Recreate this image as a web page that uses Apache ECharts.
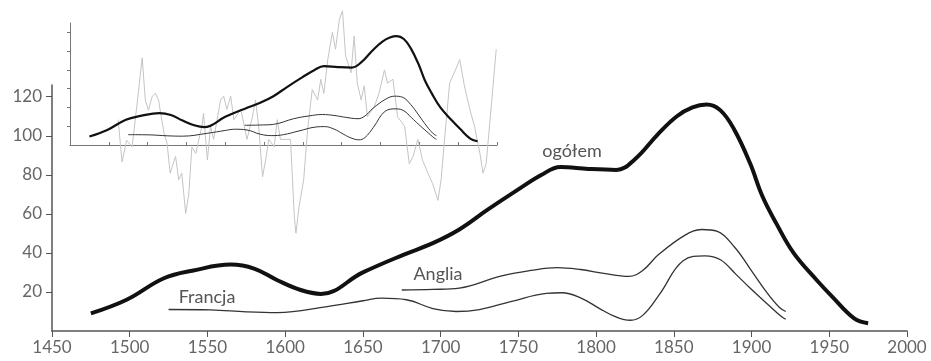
<!DOCTYPE html>
<html>
<head>
<meta charset="utf-8">
<script src="https://cdn.jsdelivr.net/npm/echarts@6/dist/echarts.min.js"></script>
<style>
html,body{margin:0;padding:0;background:#fff}
#wrap{position:relative;width:931px;height:361px}
#main,#inset{position:absolute;left:0;top:0;width:931px;height:361px}
#inset{pointer-events:none}
</style>
</head>
<body>
<div id="wrap"><div id="main"></div><div id="inset"></div></div>
<script>
// main curves: [year, value]
const ogolem = [[1475,9],[1498,16],[1522,27],[1541,31],[1565,34],[1580,32],[1595,26],[1610,21],[1623,19],[1650,30],[1676,39],[1695,45],[1712,52],[1730,62],[1749,72],[1765,80],[1777,84],[1795,83],[1813,82.5],[1825,88],[1840,101],[1852,110],[1862,114.5],[1871,116],[1880,113],[1889,103],[1899,86],[1907,69],[1916,55],[1927,40],[1942,26],[1952,17.5],[1966,6.5],[1975,4]];
const anglia = [[1675,21],[1695,21.3],[1712,22],[1738,28],[1758,31],[1775,32.5],[1790,31.5],[1805,29.5],[1821,28],[1830,31],[1840,39],[1857,49],[1868,52],[1878,51],[1889,43],[1899,32],[1910,19.5],[1918,12],[1922,10]];
const francja = [[1525,11],[1552,10.8],[1575,9.8],[1595,9.4],[1627,12.5],[1650,15.5],[1662,16.8],[1678,16],[1695,11.5],[1710,10],[1725,11],[1745,15],[1768,19.3],[1778,19.6],[1790,17],[1802,11.6],[1812,7.5],[1822,5.5],[1830,8],[1841,19],[1856,36],[1870,38.5],[1880,36.5],[1890,29],[1899,22],[1910,14],[1919,7.5],[1922,6]];
// inset: yearly fluctuation (grey)
const wahania = [[1512,27],[1517,-18],[1523,5],[1530,-2],[1536,41],[1543,93],[1547,48],[1551,37],[1556,52],[1560,55],[1564,48],[1571,13],[1575,2],[1579,-30],[1586,-12],[1590,-37],[1594,-30],[1599,-73],[1603,-52],[1607,-2],[1612,-9],[1616,6],[1620,20],[1622,34],[1627,-16],[1631,20],[1635,6],[1644,48],[1648,52],[1652,38],[1657,52],[1661,27],[1670,38],[1678,6],[1685,30],[1689,48],[1693,20],[1698,-34],[1702,-16],[1706,6],[1713,-2],[1717,27],[1721,6],[1734,6],[1739,-77],[1741,-94],[1745,-66],[1751,-37],[1756,16],[1762,59],[1769,48],[1773,70],[1777,55],[1782,91],[1788,120],[1792,102],[1797,134],[1801,143],[1805,95],[1812,77],[1816,116],[1820,66],[1825,48],[1829,63],[1833,30],[1842,41],[1848,55],[1855,80],[1859,66],[1866,70],[1872,30],[1881,20],[1887,-20],[1892,-12],[1898,6],[1904,-16],[1911,-30],[1917,-41],[1924,-59],[1928,-37],[1932,2],[1939,66],[1945,77],[1952,91],[1958,63],[1965,38],[1971,20],[1978,-9],[1982,-30],[1986,-20],[1993,45],[1999,102]];
const yTicks = [20,40,60,80,100,120];

const FONT = 'Lato';
const grey = '#666';

function thin(name, data, w){
  return {name, type:'line', data, smooth:0.4, showSymbol:false,
    lineStyle:{color:'#333', width:w}, z:3, silent:true};
}

// main panel
const main = echarts.init(document.getElementById('main'));
main.setOption({
  animation:false,
  grid:{left:52, right:24, top:85, bottom:30},
  xAxis:{type:'value', min:1450, max:2000, interval:50, splitLine:{show:false},
    axisLine:{lineStyle:{color:'#555', width:1.5}},
    axisTick:{length:6, lineStyle:{color:'#555'}},
    axisLabel:{color:grey, fontFamily:FONT, fontSize:17, margin:8, formatter:v=>String(v)}},
  yAxis:{type:'value', min:0, max:126, splitLine:{show:false},
    axisLine:{show:true, lineStyle:{color:'#555', width:1.5}},
    axisTick:{show:true, length:6, customValues:yTicks, lineStyle:{color:'#555'}},
    axisLabel:{customValues:yTicks, color:grey, fontFamily:FONT, fontSize:17, margin:10}},
  series:[
    {name:'ogółem', type:'line', data:ogolem, smooth:0.4, showSymbol:false,
     lineStyle:{color:'#111', width:4}, z:4, silent:true},
    thin('Anglia', anglia, 1.3),
    thin('Francja', francja, 1.3)
  ],
  graphic:[
    {type:'text', x:572, y:151, style:{text:'ogółem', fill:'#555', font:'18px Lato', align:'center', verticalAlign:'middle'}},
    {type:'text', x:438, y:274, style:{text:'Anglia', fill:'#555', font:'18px Lato', align:'center', verticalAlign:'middle'}},
    {type:'text', x:207, y:297, style:{text:'Francja', fill:'#555', font:'18px Lato', align:'center', verticalAlign:'middle'}}
  ]
});

// small inset panel, drawn on a transparent layer over the main one
const inset = echarts.init(document.getElementById('inset'));
inset.setOption({
  animation:false,
  grid:{left:70, top:23, width:427, height:122},
  xAxis:{type:'value', min:1450, max:2000, interval:50, splitLine:{show:false},
    axisLine:{lineStyle:{color:'#777', width:1}}, axisLabel:{show:false},
    axisTick:{inside:true, length:3, lineStyle:{color:'#777'}}},
  yAxis:{type:'value', min:0, max:130, splitLine:{show:false},
    axisLine:{show:true, lineStyle:{color:'#777', width:1}}, axisLabel:{show:false},
    axisTick:{show:true, length:3, customValues:yTicks, lineStyle:{color:'#777'}}},
  series:[
    {name:'wahania', type:'line', data:wahania, smooth:false, showSymbol:false,
     clip:false, lineStyle:{color:'#c4c4c4', width:1}, z:1, silent:true},
    {name:'ogółem', type:'line', data:ogolem, smooth:0.4, showSymbol:false,
     lineStyle:{color:'#111', width:2.2}, z:3, silent:true},
    thin('Anglia', anglia, 1),
    thin('Francja', francja, 1)
  ]
});
</script>
</body>
</html>
